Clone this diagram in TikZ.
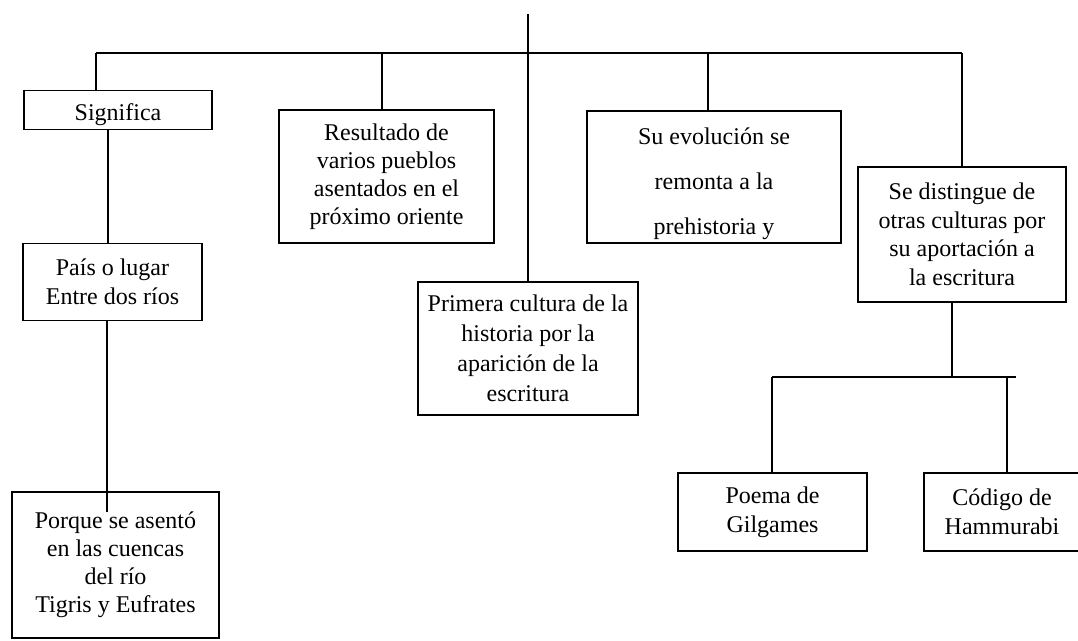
\documentclass[tikz,border=0pt]{standalone}
\usepackage{fontspec}
\setmainfont{Liberation Serif}
\begin{document}
\begin{tikzpicture}[x=1pt,y=-1pt,
  cbox/.style={draw, line width=1.2pt, inner sep=0pt, align=center,
    font=\fontsize{24}{29}\selectfont},
  link/.style={draw, line width=1.2pt}]
\useasboundingbox (0,0) rectangle (1078,640);
\clip (0,0) rectangle (1078,640);
% boxes
\node[cbox, minimum width=188, minimum height=39] (significa) at (118,110) {\rule{0pt}{26pt}Significa};
\node[cbox, minimum width=179, minimum height=77] (pais) at (112.5,282) {País o lugar\\Entre dos ríos};
\node[cbox, minimum width=207, minimum height=146, font=\fontsize{24}{28}\selectfont] (porque) at (115.5,565)
  {Porque se asentó\\en las cuencas\\del río\\Tigris y Eufrates};
\node[cbox, minimum width=215, minimum height=133, font=\fontsize{24}{28}\selectfont] (resultado) at (386.5,176.5)
  {Resultado de\\varios pueblos\\asentados en el\\próximo oriente};
\node[cbox, minimum width=220, minimum height=133, font=\fontsize{24}{30}\selectfont] (primera) at (528,348.5)
  {Primera cultura de la\\historia por la\\aparición de la\\escritura};
\node[cbox, minimum width=254, minimum height=132, font=\fontsize{24}{45}\selectfont] (evolucion) at (714,177)
  {\rule{0pt}{30pt}Su evolución se\\remonta a la\\prehistoria y};
\node[cbox, minimum width=208, minimum height=135, font=\fontsize{24}{28.5}\selectfont] (distingue) at (962,234.5)
  {Se distingue de\\otras culturas por\\su aportación a\\la escritura};
\node[cbox, minimum width=189, minimum height=78] (poema) at (772.5,512) {Poema de\\Gilgames};
\node[cbox, minimum width=156, minimum height=78] (codigo) at (1002,512) {Código de\\Hammurabi};
% coordinates of the connector lines
\coordinate (top) at (528,14);
\coordinate (bL) at (96,53);
\coordinate (bRes) at (382,53);
\coordinate (bEvo) at (708,53);
\coordinate (bR) at (962,53);
\coordinate (xS) at (108,0);
\coordinate (xP) at (107,0);
\coordinate (inPorque) at (107,512);
\coordinate (cD) at (952,377);
\coordinate (c2L) at (772,377);
\coordinate (c2R) at (1016,377);
\coordinate (c2C) at (1007,377);
% connectors
\draw[link] (top) -- (primera.north);
\draw[link] (bL) -- (bR);
\draw[link] (bL) -- (bL |- significa.north);
\draw[link] (bRes) -- (bRes |- resultado.north);
\draw[link] (bEvo) -- (bEvo |- evolucion.north);
\draw[link] (bR) -- (distingue.north);
\draw[link] (xS |- significa.south) -- (xS |- pais.north);
\draw[link] (xP |- pais.south) -- (inPorque);
\draw[link] (cD |- distingue.south) -- (cD);
\draw[link] (c2L) -- (c2R);
\draw[link] (c2L) -- (c2L |- poema.north);
\draw[link] (c2C) -- (c2C |- codigo.north);
\end{tikzpicture}
\end{document}
